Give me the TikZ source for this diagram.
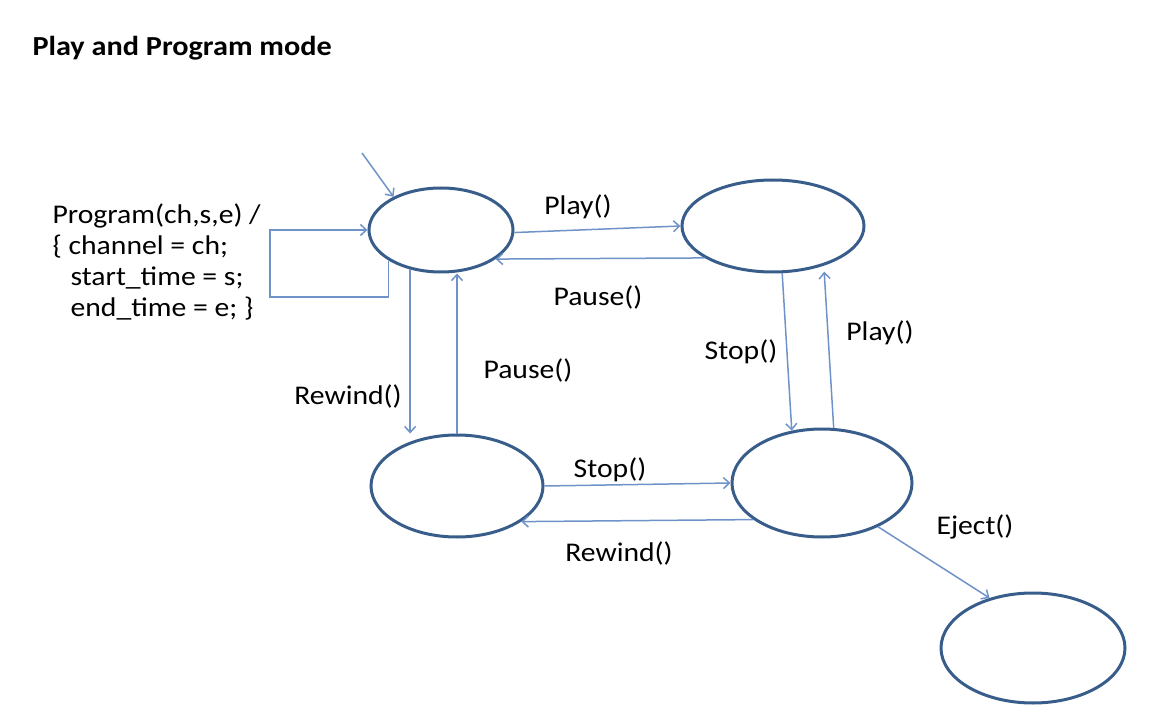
\documentclass[tikz,border=0pt]{standalone}
\usepackage{fontspec}
\setmainfont{Carlito}[FakeStretch=1.1]
\usetikzlibrary{shapes.geometric, arrows.meta}
\definecolor{stateblue}{HTML}{385D8A}
\definecolor{lineblue}{HTML}{6F93C9}

\begin{document}
\begin{tikzpicture}[x=1pt, y=-1pt, >={Straight Barb[length=6pt,width=11pt]},
    font=\fontsize{27}{31}\selectfont,
    state/.style={ellipse, draw=stateblue, line width=3pt, inner sep=0pt},
    trans/.style={->, draw=lineblue, line width=1.5pt}]
    \useasboundingbox (0,0) rectangle (1160,722);
    \node[anchor=west, font=\fontsize{27.5}{31}\selectfont\bfseries] (title) at (29,48) {Play and Program mode};
    % states
    \node[state, minimum width=144pt, minimum height=84pt] (A) at (441,230) {};
    \node[state, minimum width=182pt, minimum height=92pt] (B) at (773,226) {};
    \node[state, minimum width=172pt, minimum height=102pt] (C) at (457,486) {};
    \node[state, minimum width=180pt, minimum height=108pt] (D) at (822,483) {};
    \node[state, minimum width=184pt, minimum height=110pt] (E) at (1033,648) {};
    \coordinate (init) at (362,153);
    \coordinate (loop) at (270,297);
    % transitions
    \draw[trans] (init) -- (A.145);
    \draw[trans] (A.-150) |- (loop) |- (A.west);
    \draw[trans] (A.-2) -- (B.west);
    \draw[trans] (B.-155) -- (A.-28);
    \draw[trans] (A.-128) -- (A.-128 |- C.north);
    \draw[trans] (C.north) -- (C.north |- A.south);
    \draw[trans] (B.-79) -- (D.120);
    \draw[trans, shorten >=6pt] (D.78) -- (B.-38);
    \draw[trans] (C.east) -- (D.west);
    \draw[trans] (D.-152) -- (C.-29);
    \draw[trans] (D.-38) -- (E.131);
    % labels
    \node[anchor=west, align=left] (prog) at (49,262) {Program(ch,s,e) /\\
      \{ channel = ch;\\
      \hspace*{18pt}start\_time = s;\\
      \hspace*{18pt}end\_time = e; \}};
    \node (lplay) at (578,207) {Play()};
    \node (lpause) at (598,297) {Pause()};
    \node (lrewind) at (348,396) {Rewind()};
    \node (lpause2) at (528,370) {Pause()};
    \node (lstop) at (741,352) {Stop()};
    \node (lplay2) at (880,333) {Play()};
    \node (lstop2) at (610,470) {Stop()};
    \node (lrewind2) at (619,553) {Rewind()};
    \node (leject) at (975,527) {Eject()};
  \end{tikzpicture}
\end{document}
